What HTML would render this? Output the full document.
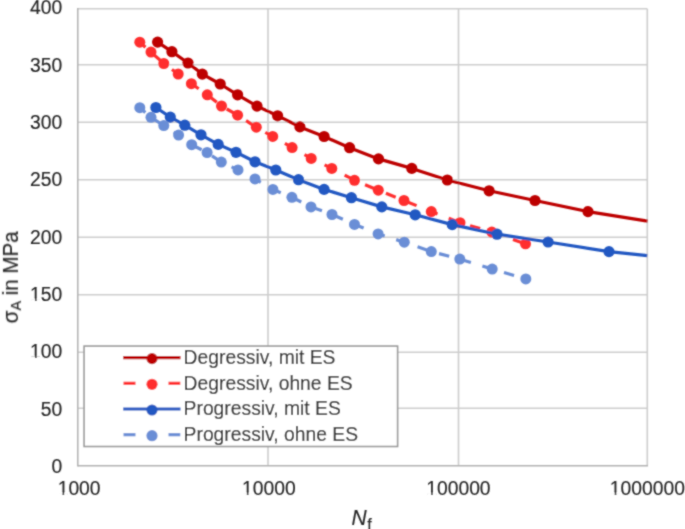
<!DOCTYPE html><html><head><meta charset="utf-8"><style>
html,body{margin:0;padding:0;background:#fff;width:685px;height:529px;overflow:hidden}
svg{display:block}
text{font-family:"Liberation Sans",sans-serif;fill:#262626;stroke:#262626;stroke-width:0.15px}
</style></head><body>
<svg width="685" height="529" viewBox="0 0 685 529">
<defs><filter id="bl" x="0" y="0" width="685" height="529" filterUnits="userSpaceOnUse"><feConvolveMatrix order="3" kernelMatrix="0.0400 0.1000 0.0400 0.1000 0.4400 0.1000 0.0400 0.1000 0.0400" divisor="1" edgeMode="none"/></filter><clipPath id="pc"><rect x="77.8" y="0" width="570" height="470"/></clipPath></defs>
<g filter="url(#bl)">
<line x1="77.8" y1="408.20" x2="647.3" y2="408.20" stroke="#cdcdcd" stroke-width="1.6"/>
<line x1="77.8" y1="352.30" x2="647.3" y2="352.30" stroke="#cdcdcd" stroke-width="1.6"/>
<line x1="77.8" y1="294.80" x2="647.3" y2="294.80" stroke="#cdcdcd" stroke-width="1.6"/>
<line x1="77.8" y1="237.20" x2="647.3" y2="237.20" stroke="#cdcdcd" stroke-width="1.6"/>
<line x1="77.8" y1="179.70" x2="647.3" y2="179.70" stroke="#cdcdcd" stroke-width="1.6"/>
<line x1="77.8" y1="122.20" x2="647.3" y2="122.20" stroke="#cdcdcd" stroke-width="1.6"/>
<line x1="77.8" y1="64.70" x2="647.3" y2="64.70" stroke="#cdcdcd" stroke-width="1.6"/>
<line x1="77.8" y1="8.80" x2="647.3" y2="8.80" stroke="#cdcdcd" stroke-width="1.6"/>
<line x1="268.00" y1="8.8" x2="268.00" y2="465.8" stroke="#cdcdcd" stroke-width="1.6"/>
<line x1="458.50" y1="8.8" x2="458.50" y2="465.8" stroke="#cdcdcd" stroke-width="1.6"/>
<line x1="647.30" y1="8.8" x2="647.30" y2="465.8" stroke="#cdcdcd" stroke-width="1.6"/>
<line x1="77.80" y1="8.1" x2="77.80" y2="466.5" stroke="#b2b2b2" stroke-width="1.5"/>
<line x1="77.80" y1="465.80" x2="648.0" y2="465.80" stroke="#b2b2b2" stroke-width="1.5"/>
<text transform="translate(62.30,473.00) scale(1,1.08)" font-size="19.3" text-anchor="end">0</text>
<text transform="translate(62.30,415.65) scale(1,1.08)" font-size="19.3" text-anchor="end">50</text>
<text transform="translate(62.30,358.30) scale(1,1.08)" font-size="19.3" text-anchor="end">100</text>
<text transform="translate(62.30,300.95) scale(1,1.08)" font-size="19.3" text-anchor="end">150</text>
<text transform="translate(62.30,243.60) scale(1,1.08)" font-size="19.3" text-anchor="end">200</text>
<text transform="translate(62.30,186.25) scale(1,1.08)" font-size="19.3" text-anchor="end">250</text>
<text transform="translate(62.30,128.90) scale(1,1.08)" font-size="19.3" text-anchor="end">300</text>
<text transform="translate(62.30,71.55) scale(1,1.08)" font-size="19.3" text-anchor="end">350</text>
<text transform="translate(62.30,14.20) scale(1,1.08)" font-size="19.3" text-anchor="end">400</text>
<text transform="translate(79.10,494.90) scale(1,1.08)" font-size="19.3" text-anchor="middle">1000</text>
<text transform="translate(268.80,494.90) scale(1,1.08)" font-size="19.3" text-anchor="middle">10000</text>
<text transform="translate(458.40,494.90) scale(1,1.08)" font-size="19.3" text-anchor="middle">100000</text>
<text transform="translate(647.40,494.90) scale(1,1.08)" font-size="19.3" text-anchor="middle">1000000</text>
<rect x="31.04" y="356.44" width="3.91" height="2.56" fill="#fff"/>
<rect x="36.66" y="356.44" width="3.71" height="2.56" fill="#fff"/>
<rect x="31.04" y="299.09" width="3.91" height="2.56" fill="#fff"/>
<rect x="36.66" y="299.09" width="3.71" height="2.56" fill="#fff"/>
<rect x="58.57" y="493.04" width="3.91" height="2.56" fill="#fff"/>
<rect x="64.19" y="493.04" width="3.71" height="2.56" fill="#fff"/>
<rect x="242.91" y="493.04" width="3.91" height="2.56" fill="#fff"/>
<rect x="248.52" y="493.04" width="3.71" height="2.56" fill="#fff"/>
<rect x="427.14" y="493.04" width="3.91" height="2.56" fill="#fff"/>
<rect x="432.76" y="493.04" width="3.71" height="2.56" fill="#fff"/>
<rect x="610.77" y="493.04" width="3.91" height="2.56" fill="#fff"/>
<rect x="616.39" y="493.04" width="3.71" height="2.56" fill="#fff"/>
<text transform="translate(351.5,524.8) scale(1,1.05)" font-size="21" font-style="italic">N<tspan font-size="16" font-style="normal" dy="4.5" dx="0.6">f</tspan></text>
<text transform="translate(17.7,323.3) rotate(-90) scale(1,1.04)" font-size="20.5">σ<tspan font-size="14.5" dy="2.8">A</tspan><tspan dy="-2.8"> in MPa</tspan></text>
<g clip-path="url(#pc)">
<polyline points="157.6,42.1 171.9,51.7 188.0,63.0 202.3,74.1 220.2,84.0 237.6,94.8 257.0,106.1 277.6,115.8 299.9,126.9 324.1,136.5 349.6,147.7 378.5,158.9 411.8,168.4 447.3,180.0 489.1,190.8 535.0,200.5 588.0,211.6 647.6,221.1" fill="none" stroke="#bd0000" stroke-width="3.2" stroke-linejoin="round"/>
<circle cx="157.6" cy="42.1" r="5.6" fill="#bd0000"/>
<circle cx="171.9" cy="51.7" r="5.6" fill="#bd0000"/>
<circle cx="188.0" cy="63.0" r="5.6" fill="#bd0000"/>
<circle cx="202.3" cy="74.1" r="5.6" fill="#bd0000"/>
<circle cx="220.2" cy="84.0" r="5.6" fill="#bd0000"/>
<circle cx="237.6" cy="94.8" r="5.6" fill="#bd0000"/>
<circle cx="257.0" cy="106.1" r="5.6" fill="#bd0000"/>
<circle cx="277.6" cy="115.8" r="5.6" fill="#bd0000"/>
<circle cx="299.9" cy="126.9" r="5.6" fill="#bd0000"/>
<circle cx="324.1" cy="136.5" r="5.6" fill="#bd0000"/>
<circle cx="349.6" cy="147.7" r="5.6" fill="#bd0000"/>
<circle cx="378.5" cy="158.9" r="5.6" fill="#bd0000"/>
<circle cx="411.8" cy="168.4" r="5.6" fill="#bd0000"/>
<circle cx="447.3" cy="180.0" r="5.6" fill="#bd0000"/>
<circle cx="489.1" cy="190.8" r="5.6" fill="#bd0000"/>
<circle cx="535.0" cy="200.5" r="5.6" fill="#bd0000"/>
<circle cx="588.0" cy="211.6" r="5.6" fill="#bd0000"/>
<polyline points="139.8,42.2 151.0,52.1 163.8,63.5 178.2,74.0 191.4,83.7 207.3,94.8 221.5,106.0 237.6,115.2 256.3,127.2 272.7,136.4 292.1,147.6 311.2,158.4 331.8,168.4 354.5,180.3 378.3,190.2 404.0,200.5 431.3,211.6 460.0,222.7 491.8,232.1 525.5,243.8" fill="none" stroke="#ff2f2f" stroke-width="3.2" stroke-linejoin="round" stroke-dasharray="10.5 12.05" stroke-dashoffset="2.95"/>
<circle cx="139.8" cy="42.2" r="5.5" fill="#ff2f2f"/>
<circle cx="151.0" cy="52.1" r="5.5" fill="#ff2f2f"/>
<circle cx="163.8" cy="63.5" r="5.5" fill="#ff2f2f"/>
<circle cx="178.2" cy="74.0" r="5.5" fill="#ff2f2f"/>
<circle cx="191.4" cy="83.7" r="5.5" fill="#ff2f2f"/>
<circle cx="207.3" cy="94.8" r="5.5" fill="#ff2f2f"/>
<circle cx="221.5" cy="106.0" r="5.5" fill="#ff2f2f"/>
<circle cx="237.6" cy="115.2" r="5.5" fill="#ff2f2f"/>
<circle cx="256.3" cy="127.2" r="5.5" fill="#ff2f2f"/>
<circle cx="272.7" cy="136.4" r="5.5" fill="#ff2f2f"/>
<circle cx="292.1" cy="147.6" r="5.5" fill="#ff2f2f"/>
<circle cx="311.2" cy="158.4" r="5.5" fill="#ff2f2f"/>
<circle cx="331.8" cy="168.4" r="5.5" fill="#ff2f2f"/>
<circle cx="354.5" cy="180.3" r="5.5" fill="#ff2f2f"/>
<circle cx="378.3" cy="190.2" r="5.5" fill="#ff2f2f"/>
<circle cx="404.0" cy="200.5" r="5.5" fill="#ff2f2f"/>
<circle cx="431.3" cy="211.6" r="5.5" fill="#ff2f2f"/>
<circle cx="460.0" cy="222.7" r="5.5" fill="#ff2f2f"/>
<circle cx="491.8" cy="232.1" r="5.5" fill="#ff2f2f"/>
<circle cx="525.5" cy="243.8" r="5.5" fill="#ff2f2f"/>
<polyline points="155.9,107.5 170.3,117.1 184.8,125.2 201.0,134.8 218.2,144.4 236.0,152.3 255.0,161.8 275.8,170.0 298.5,179.7 324.1,189.4 351.4,197.7 381.8,206.9 415.2,214.8 452.2,224.6 497.0,234.2 548.1,242.0 609.0,251.6 647.3,255.6" fill="none" stroke="#2458c2" stroke-width="3.2" stroke-linejoin="round"/>
<circle cx="155.9" cy="107.5" r="5.6" fill="#2458c2"/>
<circle cx="170.3" cy="117.1" r="5.6" fill="#2458c2"/>
<circle cx="184.8" cy="125.2" r="5.6" fill="#2458c2"/>
<circle cx="201.0" cy="134.8" r="5.6" fill="#2458c2"/>
<circle cx="218.2" cy="144.4" r="5.6" fill="#2458c2"/>
<circle cx="236.0" cy="152.3" r="5.6" fill="#2458c2"/>
<circle cx="255.0" cy="161.8" r="5.6" fill="#2458c2"/>
<circle cx="275.8" cy="170.0" r="5.6" fill="#2458c2"/>
<circle cx="298.5" cy="179.7" r="5.6" fill="#2458c2"/>
<circle cx="324.1" cy="189.4" r="5.6" fill="#2458c2"/>
<circle cx="351.4" cy="197.7" r="5.6" fill="#2458c2"/>
<circle cx="381.8" cy="206.9" r="5.6" fill="#2458c2"/>
<circle cx="415.2" cy="214.8" r="5.6" fill="#2458c2"/>
<circle cx="452.2" cy="224.6" r="5.6" fill="#2458c2"/>
<circle cx="497.0" cy="234.2" r="5.6" fill="#2458c2"/>
<circle cx="548.1" cy="242.0" r="5.6" fill="#2458c2"/>
<circle cx="609.0" cy="251.6" r="5.6" fill="#2458c2"/>
<polyline points="139.8,107.7 151.0,117.3 163.8,125.6 178.6,135.1 191.7,144.7 207.1,152.5 221.3,162.1 238.0,169.9 255.0,178.9 272.9,189.4 291.9,197.3 311.0,206.9 332.0,214.5 354.5,224.4 378.1,233.9 404.3,242.2 431.3,251.6 459.8,259.1 492.2,269.1 525.8,278.9" fill="none" stroke="#6a8ed6" stroke-width="3.2" stroke-linejoin="round" stroke-dasharray="10.5 12.05" stroke-dashoffset="3.2"/>
<circle cx="139.8" cy="107.7" r="5.5" fill="#6a8ed6"/>
<circle cx="151.0" cy="117.3" r="5.5" fill="#6a8ed6"/>
<circle cx="163.8" cy="125.6" r="5.5" fill="#6a8ed6"/>
<circle cx="178.6" cy="135.1" r="5.5" fill="#6a8ed6"/>
<circle cx="191.7" cy="144.7" r="5.5" fill="#6a8ed6"/>
<circle cx="207.1" cy="152.5" r="5.5" fill="#6a8ed6"/>
<circle cx="221.3" cy="162.1" r="5.5" fill="#6a8ed6"/>
<circle cx="238.0" cy="169.9" r="5.5" fill="#6a8ed6"/>
<circle cx="255.0" cy="178.9" r="5.5" fill="#6a8ed6"/>
<circle cx="272.9" cy="189.4" r="5.5" fill="#6a8ed6"/>
<circle cx="291.9" cy="197.3" r="5.5" fill="#6a8ed6"/>
<circle cx="311.0" cy="206.9" r="5.5" fill="#6a8ed6"/>
<circle cx="332.0" cy="214.5" r="5.5" fill="#6a8ed6"/>
<circle cx="354.5" cy="224.4" r="5.5" fill="#6a8ed6"/>
<circle cx="378.1" cy="233.9" r="5.5" fill="#6a8ed6"/>
<circle cx="404.3" cy="242.2" r="5.5" fill="#6a8ed6"/>
<circle cx="431.3" cy="251.6" r="5.5" fill="#6a8ed6"/>
<circle cx="459.8" cy="259.1" r="5.5" fill="#6a8ed6"/>
<circle cx="492.2" cy="269.1" r="5.5" fill="#6a8ed6"/>
<circle cx="525.8" cy="278.9" r="5.5" fill="#6a8ed6"/>
</g>
<rect x="84.1" y="346.1" width="313.5" height="100.4" fill="#fff" stroke="#999999" stroke-width="1.6"/>
<line x1="123.2" y1="357.6" x2="180.5" y2="357.6" stroke="#bd0000" stroke-width="3.2"/>
<circle cx="152" cy="358.6" r="5.6" fill="#bd0000"/>
<text transform="translate(183.60,364.00) scale(1,1.08)" font-size="19.3">Degressiv, mit ES</text>
<line x1="123.5" y1="383.3" x2="135.5" y2="383.3" stroke="#ff2f2f" stroke-width="3.2"/>
<line x1="168.5" y1="383.3" x2="180.3" y2="383.3" stroke="#ff2f2f" stroke-width="3.2"/>
<circle cx="152" cy="384.3" r="5.6" fill="#ff2f2f"/>
<text transform="translate(183.60,389.70) scale(1,1.08)" font-size="19.3">Degressiv, ohne ES</text>
<line x1="123.2" y1="409.0" x2="180.5" y2="409.0" stroke="#2458c2" stroke-width="3.2"/>
<circle cx="152" cy="410.0" r="5.6" fill="#2458c2"/>
<text transform="translate(183.60,415.40) scale(1,1.08)" font-size="19.3">Progressiv, mit ES</text>
<line x1="123.5" y1="434.7" x2="135.5" y2="434.7" stroke="#6a8ed6" stroke-width="3.2"/>
<line x1="168.5" y1="434.7" x2="180.3" y2="434.7" stroke="#6a8ed6" stroke-width="3.2"/>
<circle cx="152" cy="435.7" r="5.6" fill="#6a8ed6"/>
<text transform="translate(183.60,441.10) scale(1,1.08)" font-size="19.3">Progressiv, ohne ES</text>
</g>
</svg></body></html>
